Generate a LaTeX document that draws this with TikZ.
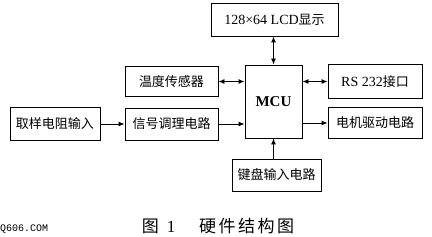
\documentclass[tikz,border=0pt]{standalone}
\usepackage{fontspec}
\setmainfont{Liberation Serif}
\newfontfamily\cjk{Noto Sans CJK SC}
\newfontfamily\wmfont{Liberation Mono}
\usetikzlibrary{arrows.meta}

\begin{document}
\begin{tikzpicture}[
    x=1pt, y=-1pt,
    block/.style={draw, line width=0.9pt, inner sep=0pt, font=\fontsize{13}{15}\selectfont\cjk, align=center, minimum width=93pt, minimum height=32pt},
    link/.style={line width=0.9pt, -{Latex[length=6pt,width=5pt]}},
    duplex/.style={line width=0.9pt, {Latex[length=6pt,width=5pt]}-{Latex[length=6pt,width=5pt]}}
]
    \useasboundingbox (0,0) rectangle (432,237);

    % 主控芯片
    \node[block, minimum width=57pt, minimum height=73pt, font=\fontsize{15}{17}\selectfont\bfseries] (mcu) at (273.5,101.5) {MCU};

    % 显示
    \node[block, minimum width=127pt, minimum height=33pt, font=\fontsize{14}{16}\selectfont] (lcd) at (274.5,19.5) {128×64 LCD{\fontsize{13}{15}\selectfont\cjk 显示}};

    % 左侧
    \node[block, minimum height=30pt] (temp) at (171.5,81.5) {温度传感器};
    \node[block] (cond) at (171.5,124) {信号调理电路};
    \node[block, minimum width=90pt, minimum height=33pt] (sample) at (55,124) {取样电阻输入};

    % 右侧
    \node[block, minimum width=94pt, minimum height=34pt, font=\fontsize{14}{16}\selectfont] (rs) at (375,81.5) {RS 232{\fontsize{13}{15}\selectfont\cjk 接口}};
    \node[block, minimum width=94pt, minimum height=31pt] (motor) at (375,123) {电机驱动电路};

    % 下方
    \node[block, minimum width=89pt] (kbd) at (276.5,175) {键盘输入电路};

    \draw[duplex] (lcd.south -| mcu.north) -- (mcu.north);
    \draw[duplex] (temp.east) -- (temp.east -| mcu.west);
    \draw[link] (sample.east) -- (cond.west);
    \draw[link] (cond.east) -- (cond.east -| mcu.west);
    \draw[duplex] (rs.west -| mcu.east) -- (rs.west);
    \draw[link] (motor.west -| mcu.east) -- (motor.west);
    \draw[link] (kbd.north -| mcu.south) -- (mcu.south);

    % 图题
    \node[font=\fontsize{17}{19}\selectfont] (caption) at (218,226) {{\cjk 图}\hspace{8pt}1\hspace{24pt}{\cjk 硬\hspace{2.5pt}件\hspace{2.5pt}结\hspace{2.5pt}构\hspace{2.5pt}图}};
    \node[anchor=west, inner sep=0pt, font=\fontsize{10}{12}\selectfont\wmfont] (mark) at (0,229) {Q606.COM};
\end{tikzpicture}
\end{document}
